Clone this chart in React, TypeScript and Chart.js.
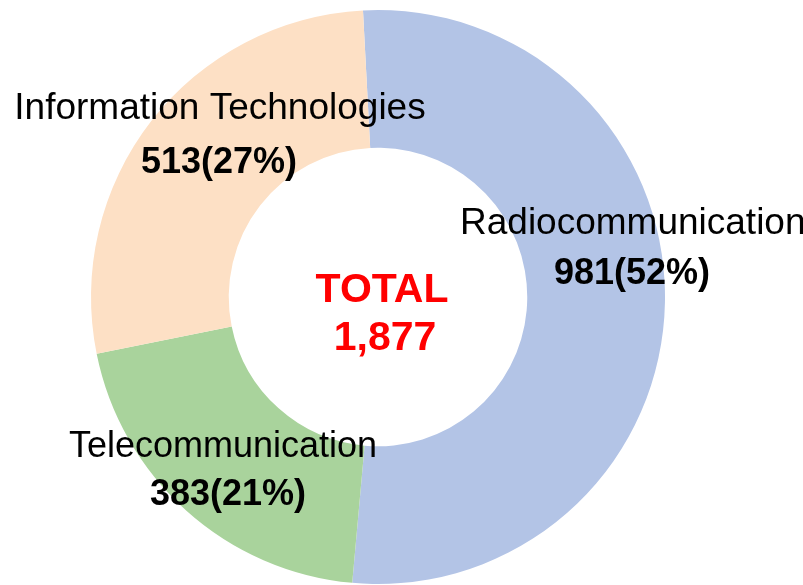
import React, { useEffect, useRef } from "react";
import { Chart, registerables } from "chart.js";

Chart.register(...registerables);

const categories = ["Radiocommunication", "Telecommunication", "Information Technologies"];
const values = [981, 383, 513];
const percentLabels = [52, 21, 27];
const colors = ["#b3c4e6", "#a9d39c", "#fde0c5"];
const totalLabel = "TOTAL";

const FONT = '"Liberation Sans", Arial, sans-serif';

export default function App() {
  const ref = useRef<HTMLCanvasElement | null>(null);

  useEffect(() => {
    if (!ref.current) return;
    const total = values.reduce((a, b) => a + b, 0);

    // label anchor positions (layout only)
    const labelPos = [
      { nameX: 460, nameY: 234, nameAlign: "left", nameSize: 37, valX: 632, valY: 284 },
      { nameX: 223, nameY: 457, nameAlign: "center", nameSize: 36, valX: 228, valY: 505 },
      { nameX: 220, nameY: 119, nameAlign: "center", nameSize: 37, valX: 219, valY: 173 },
    ];

    const textPlugin = {
      id: "textPlugin",
      afterDraw(chart: any) {
        const ctx = chart.ctx as CanvasRenderingContext2D;
        ctx.save();
        ctx.textBaseline = "alphabetic";
        ctx.fillStyle = "#000000";
        categories.forEach((cat, i) => {
          const p = labelPos[i];
          ctx.font = `${p.nameSize}px ${FONT}`;
          ctx.textAlign = p.nameAlign as CanvasTextAlign;
          ctx.fillText(cat, p.nameX, p.nameY);
          ctx.font = `bold 36px ${FONT}`;
          ctx.textAlign = "center";
          ctx.fillText(`${values[i]}(${percentLabels[i]}%)`, p.valX, p.valY);
        });
        ctx.fillStyle = "#ff0000";
        ctx.font = `bold 41px ${FONT}`;
        ctx.textAlign = "center";
        ctx.fillText(totalLabel, 382, 302);
        ctx.fillText(total.toLocaleString("en-US"), 385, 350);
        ctx.restore();
      },
    };

    const chart = new Chart(ref.current, {
      type: "doughnut",
      data: {
        labels: categories,
        datasets: [
          {
            data: values,
            backgroundColor: colors,
            borderWidth: 0,
          },
        ],
      },
      options: {
        animation: false,
        responsive: false,
        devicePixelRatio: 1,
        cutout: "52%",
        rotation: -3,
        layout: { padding: { top: 10, bottom: 1, left: 91, right: 138 } },
        plugins: {
          legend: { display: false },
          tooltip: { enabled: false },
        },
        events: [],
      },
      plugins: [textPlugin],
    });
    return () => chart.destroy();
  }, []);

  return (
    <div style={{ position: "absolute", left: 0, top: 0, width: 803, height: 585, background: "#ffffff" }}>
      <canvas ref={ref} width={803} height={585} style={{ display: "block" }} />
    </div>
  );
}
